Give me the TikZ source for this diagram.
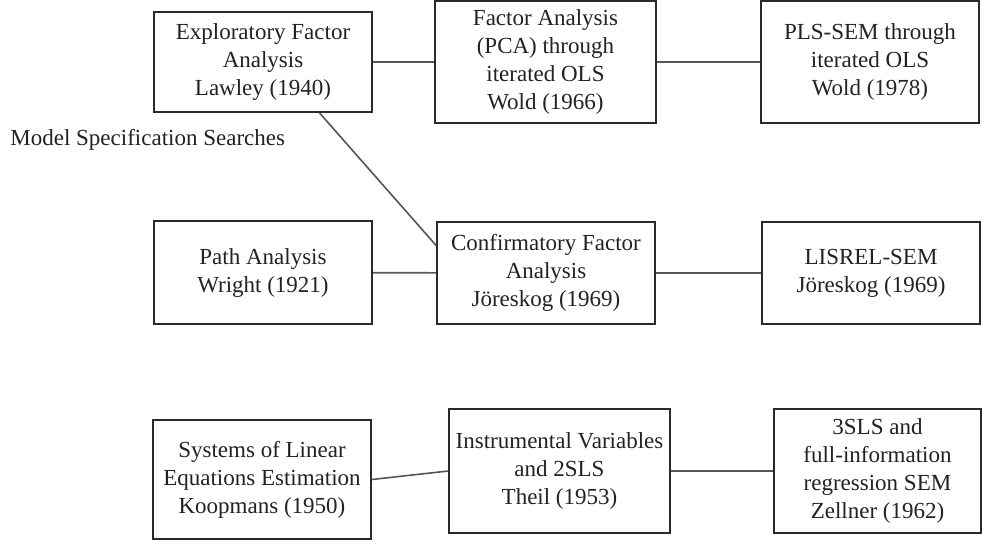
\documentclass[tikz,border=0pt]{standalone}
\usepackage{fontspec}
\setmainfont{Liberation Serif}
\usetikzlibrary{calc}
\definecolor{inkc}{HTML}{222222}
\definecolor{framec}{HTML}{2A2A2A}
\definecolor{linkc}{HTML}{555555}
\tikzset{
  stage/.style={draw=framec, line width=0.8pt, inner sep=0pt, align=center,
    text=inkc, font=\fontsize{11.5}{14}\selectfont},
  link/.style={draw=linkc, line width=0.8pt},
  note/.style={text=inkc, inner sep=0pt, font=\fontsize{11.5}{14}\selectfont}
}
\begin{document}
\begin{tikzpicture}[x=0.5pt,y=-0.5pt]
\useasboundingbox (0,0) rectangle (982,542);
% top row
\node[stage, minimum width=109pt, minimum height=50pt] (efa) at (263,62)
  {Exploratory Factor\\Analysis\\Lawley (1940)};
\node[stage, minimum width=110.5pt, minimum height=61pt] (pca) at (545.5,62)
  {Factor Analysis\\(PCA) through\\iterated OLS\\Wold (1966)};
\node[stage, minimum width=109pt, minimum height=61pt] (pls) at (870,62)
  {PLS-SEM through\\iterated OLS\\Wold (1978)};
% middle row
\node[stage, minimum width=109pt, minimum height=51.5pt] (path) at (263,272.5)
  {Path Analysis\\Wright (1921)};
\node[stage, minimum width=109pt, minimum height=51pt] (cfa) at (546,273)
  {Confirmatory Factor\\Analysis\\Jöreskog (1969)};
\node[stage, minimum width=109pt, minimum height=51pt] (lisrel) at (871,273)
  {LISREL-SEM\\Jöreskog (1969)};
% bottom row
\node[stage, minimum width=109pt, minimum height=59.5pt] (sys) at (262,479.5)
  {Systems of Linear\\Equations Estimation\\Koopmans (1950)};
\node[stage, minimum width=110.5pt, minimum height=62pt] (iv) at (559.5,471)
  {Instrumental Variables\\and 2SLS\\Theil (1953)};
\node[stage, minimum width=103.5pt, minimum height=62pt] (sls) at (877.5,471)
  {3SLS and\\full-information\\regression SEM\\Zellner (1962)};
% label of the diagonal link
\node[note, anchor=west] (mss) at (10,140) {Model Specification Searches};
% links
\draw[link] (efa) -- (pca);
\draw[link] (pca) -- (pls);
\draw[link] (path) -- (cfa);
\draw[link] (cfa) -- (lisrel);
\draw[link] (sys.east) -- (iv.west);
\draw[link] (iv) -- (sls);
\coordinate (efaout) at ($(efa.south west)!0.757!(efa.south east)$);
\coordinate (cfain) at ($(cfa.north west)!0.235!(cfa.south west)$);
\draw[link] (efaout) -- (cfain);
\end{tikzpicture}
\end{document}
